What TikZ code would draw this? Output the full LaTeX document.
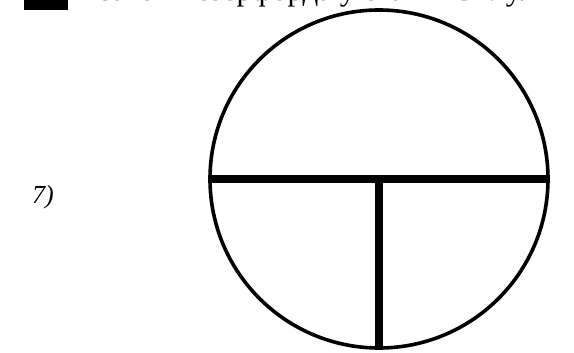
\documentclass[tikz,border=0pt]{standalone}
\usepackage{fontspec}
\setmainfont{Liberation Serif}
\begin{document}
\begin{tikzpicture}[x=1pt,y=-1pt,
  thin/.style={line width=3.6pt},
  thick bar/.style={line width=8pt}]
\useasboundingbox (0,0) rectangle (574,353);
\begin{scope}
\clip (0,0) rectangle (574,353);
\fill[black] (24,-20) rectangle (68,10);
\node[anchor=base west,inner sep=0pt,font=\fontsize{31}{34}\selectfont] (top) at (100,1) {закон Резерфорда у станів СБлу.};
\end{scope}
\node[circle,draw,thin,minimum size=338pt,inner sep=0pt] (c) at (379,179) {};
\coordinate (L) at (c.west);
\coordinate (R) at (c.east);
\coordinate (B) at (c.south);
\draw[thick bar] (L) -- (R);
\draw[thick bar] (c.center) -- (B);
\node[font=\itshape\fontsize{26}{30}\selectfont,anchor=base west,inner sep=0pt] (lbl) at (32,204) {7)};
\end{tikzpicture}
\end{document}
